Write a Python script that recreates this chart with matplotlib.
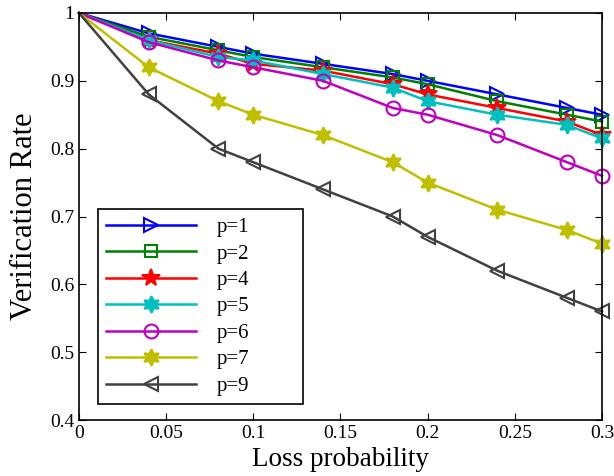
import matplotlib

matplotlib.use("Agg")
import matplotlib.pyplot as plt

plt.rcParams["font.family"] = ["Liberation Serif", "DejaVu Serif"]

loss = [0, 0.04, 0.08, 0.1, 0.14, 0.18, 0.2, 0.24, 0.28, 0.3]

rate_p1 = [1, 0.97, 0.95, 0.94, 0.925, 0.91, 0.90, 0.88, 0.86, 0.85]
rate_p2 = [1, 0.965, 0.945, 0.935, 0.92, 0.905, 0.895, 0.87, 0.85, 0.84]
rate_p4 = [1, 0.96, 0.94, 0.925, 0.915, 0.895, 0.88, 0.86, 0.84, 0.82]
rate_p5 = [1, 0.96, 0.935, 0.93, 0.91, 0.89, 0.87, 0.85, 0.835, 0.815]
rate_p6 = [1, 0.957, 0.93, 0.92, 0.90, 0.86, 0.85, 0.82, 0.78, 0.76]
rate_p7 = [1, 0.92, 0.87, 0.85, 0.82, 0.78, 0.75, 0.71, 0.68, 0.66]
rate_p9 = [1, 0.88, 0.80, 0.78, 0.74, 0.70, 0.67, 0.62, 0.58, 0.56]

labels = ["p=1", "p=2", "p=4", "p=5", "p=6", "p=7", "p=9"]

# (values, colour, marker, marker size, filled)
series = [
    (rate_p1, (0, 0, 1), ">", 10, False),
    (rate_p2, (0, 0.5, 0), "s", 8, False),
    (rate_p4, (1, 0, 0), "*", 13, True),
    (rate_p5, (0, 0.75, 0.75), (6, 1, 0), 12, True),
    (rate_p6, (0.75, 0, 0.75), "o", 10, False),
    (rate_p7, (0.75, 0.75, 0), (6, 1, 0), 12, True),
    (rate_p9, (0.25, 0.25, 0.25), "<", 10, False),
]

fig = plt.figure(figsize=(6.14, 4.76), dpi=100)
ax = fig.add_axes([0.1287, 0.1176, 0.8517, 0.8551])

# the starting point at loss 0 has no visible marker in the original
marked = list(range(1, len(loss)))
for (vals, col, mk, ms, filled), lab in zip(series, labels):
    ax.plot(loss, vals, color=col, linewidth=1.8, marker=mk, markersize=ms,
            markevery=marked,
            markerfacecolor=col if filled else "none",
            markeredgecolor=col, markeredgewidth=1.5, label=lab,
            clip_on=False)

ax.set_xlim(0, 0.3)
ax.set_ylim(0.4, 1)
ax.set_xticks([0, 0.05, 0.1, 0.15, 0.2, 0.25, 0.3])
ax.set_xticklabels(["0", "0.05", "0.1", "0.15", "0.2", "0.25", "0.3"])
ax.set_yticks([0.4, 0.5, 0.6, 0.7, 0.8, 0.9, 1.0])
ax.set_yticklabels(["0.4", "0.5", "0.6", "0.7", "0.8", "0.9", "1"])
ax.tick_params(direction="in", top=True, right=True, labelsize=14, length=5)
for s in ax.spines.values():
    s.set_linewidth(1.2)

ax.set_xlabel("Loss probability", fontsize=19.5, labelpad=4)
ax.set_ylabel("Verification Rate", fontsize=22, labelpad=8)

leg = ax.legend(loc="lower left", bbox_to_anchor=(0.036, 0.039, 0.392, 0.2),
                mode="expand", borderaxespad=0, fontsize=15, fancybox=False,
                edgecolor="black", framealpha=1, handlelength=4.3,
                handletextpad=1.0, labelspacing=0.33, borderpad=0.4)
leg.get_frame().set_linewidth(1.2)

fig.savefig("out.png", dpi=100)
